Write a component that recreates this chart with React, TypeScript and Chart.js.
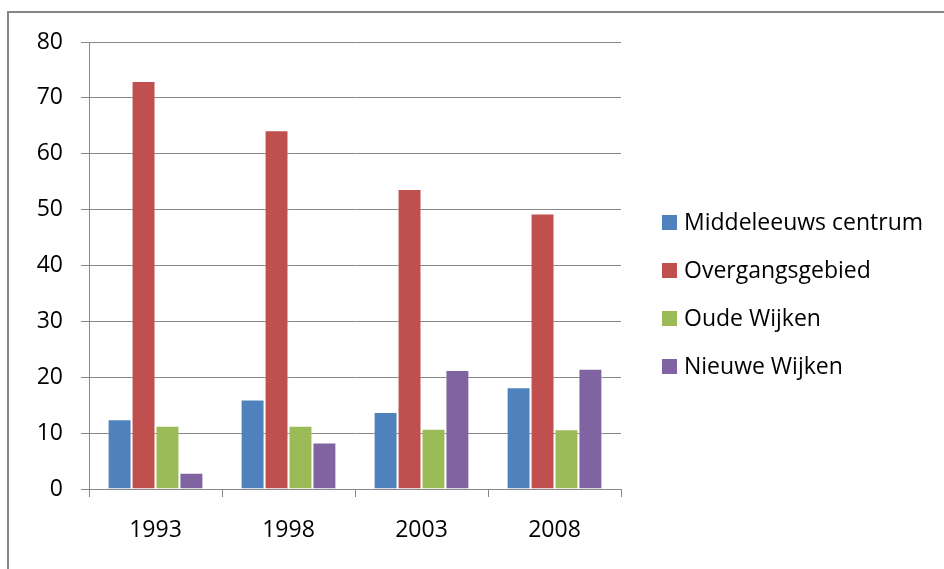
import React, { useEffect, useRef } from "react";
import { Chart, registerables } from "chart.js";

Chart.register(...registerables);

const years = ["1993", "1998", "2003", "2008"];
const seriesNames = ["Middeleeuws centrum", "Overgangsgebied", "Oude Wijken", "Nieuwe Wijken"];
const middeleeuwsCentrum = [12.5, 16.0, 13.8, 18.2];
const overgangsgebied = [73.0, 64.2, 53.7, 49.3];
const oudeWijken = [11.3, 11.3, 10.8, 10.7];
const nieuweWijken = [2.9, 8.3, 21.3, 21.5];
const yTicks = [0, 10, 20, 30, 40, 50, 60, 70, 80];

const colors = ["#4F81BD", "#C0504D", "#9BBB59", "#8064A2"];
const FONT = "'Open Sans', Lato, sans-serif";
const GRID = "#888888";
const FONT_SIZE = 23;

const frameAndLegend = {
  id: "frameAndLegend",
  beforeDraw(chart: any) {
    const ctx = chart.ctx;
    ctx.save();
    ctx.fillStyle = "#ffffff";
    ctx.fillRect(0, 0, chart.width, chart.height);
    ctx.strokeStyle = "#868686";
    ctx.lineWidth = 2;
    ctx.beginPath();
    ctx.moveTo(8, chart.height + 5);
    ctx.lineTo(8, 12);
    ctx.lineTo(chart.width + 5, 12);
    ctx.stroke();
    ctx.restore();
  },
  afterDraw(chart: any) {
    const ctx = chart.ctx;
    ctx.save();
    const boxX = 662;
    const textX = 684;
    const startY = 222.5;
    const step = 48;
    ctx.font = `${FONT_SIZE}px ${FONT}`;
    ctx.textBaseline = "middle";
    ctx.textAlign = "left";
    chart.data.datasets.forEach((ds: any, i: number) => {
      const cy = startY + i * step;
      ctx.fillStyle = ds.backgroundColor;
      ctx.fillRect(boxX, cy - 7.5, 15, 15);
      ctx.fillStyle = "#000000";
      ctx.fillText(ds.label, textX, cy + 1);
    });
    ctx.restore();
  },
};

export default function App() {
  const ref = useRef<HTMLCanvasElement>(null);
  useEffect(() => {
    if (!ref.current) return;
    const seriesData = [middeleeuwsCentrum, overgangsgebied, oudeWijken, nieuweWijken];
    const chart = new Chart(ref.current, {
      type: "bar",
      data: {
        labels: years,
        datasets: seriesNames.map((name, i) => ({
          label: name,
          data: seriesData[i],
          backgroundColor: colors[i],
          borderColor: "rgba(255,255,255,0.3)",
          borderWidth: 1,
          categoryPercentage: 0.72,
          barPercentage: 1.0,
        })),
      },
      options: {
        animation: false,
        responsive: false,
        devicePixelRatio: 1,
        layout: { padding: { left: 0, top: 42, right: 323, bottom: 0 } },
        plugins: { legend: { display: false }, tooltip: { enabled: false } },
        scales: {
          x: {
            offset: true,
            grid: {
              display: true,
              offset: true,
              drawOnChartArea: false,
              drawTicks: true,
              tickLength: 8,
              color: GRID,
              lineWidth: 1,
            },
            border: { display: true, color: GRID, width: 1 },
            ticks: {
              color: "#000000",
              font: { family: FONT, size: FONT_SIZE },
              padding: 20,
              maxRotation: 0,
            },
            afterFit(scale: any) {
              scale.height = 80;
            },
          },
          y: {
            min: 0,
            max: 80,
            afterBuildTicks(scale: any) {
              scale.ticks = yTicks.map((v) => ({ value: v }));
            },
            grid: {
              color: GRID,
              lineWidth: 1,
              drawTicks: true,
              tickLength: 8,
            },
            border: { display: true, color: GRID, width: 1 },
            ticks: {
              color: "#000000",
              font: { family: FONT, size: FONT_SIZE },
              padding: 18,
            },
            afterFit(scale: any) {
              scale.width = 89;
            },
          },
        },
      },
      plugins: [frameAndLegend],
    });
    return () => chart.destroy();
  }, []);
  return (
    <div style={{ position: "absolute", left: 0, top: 0, width: 944, height: 569, background: "#fff" }}>
      <canvas ref={ref} width={944} height={569} style={{ display: "block" }} />
    </div>
  );
}
